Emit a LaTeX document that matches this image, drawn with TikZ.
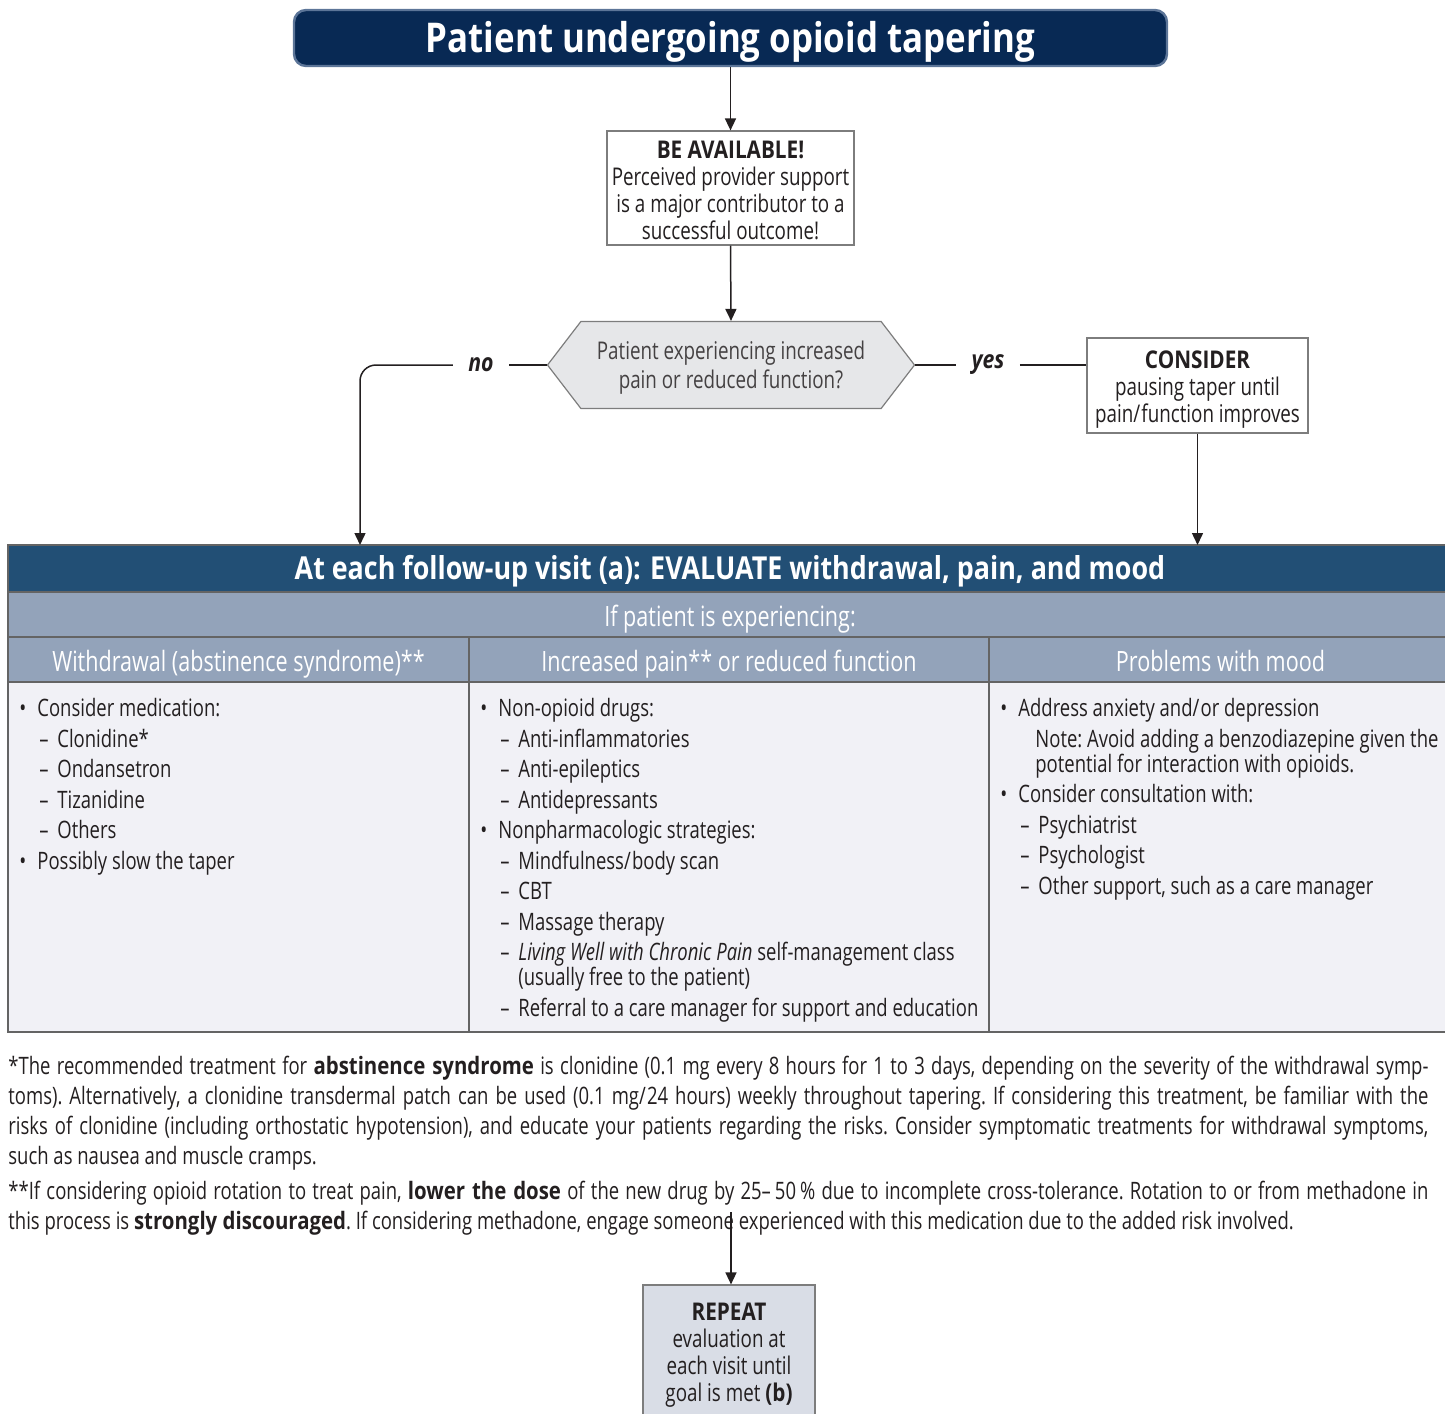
\documentclass[tikz,border=0pt]{standalone}
\usepackage{fontspec}
\setmainfont{Open Sans}[FakeStretch=0.77,BoldFeatures={FakeStretch=0.85},BoldItalicFeatures={FakeStretch=0.85}]
\usetikzlibrary{arrows.meta,positioning,shapes.symbols}
\definecolor{navy}{RGB}{8,41,84}
\definecolor{navyedge}{RGB}{92,117,152}
\definecolor{steel}{RGB}{34,79,117}
\definecolor{haze}{RGB}{147,163,186}
\definecolor{pale}{RGB}{241,241,246}
\definecolor{hexfill}{RGB}{230,231,233}
\definecolor{repfill}{RGB}{217,221,230}
\definecolor{ink}{RGB}{35,31,32}
\definecolor{rule}{RGB}{125,125,125}
\tikzset{
  head/.style ={draw=navyedge,line width=1.2pt,rounded corners=6pt,fill=navy,
                text=white,minimum width=436.5pt,minimum height=28pt,
                text height=15.5pt,text depth=0.5pt,
                font=\bfseries\fontsize{20.5}{24}\selectfont},
  bx/.style   ={draw=rule,line width=0.6pt,fill=white,align=center,text=ink,
                inner sep=0pt,font=\fontsize{12.2}{13.5}\selectfont},
  dec/.style  ={signal,signal to=west and east,signal pointer angle=105,
                draw=rule,line width=0.6pt,fill=hexfill,align=center,
                text=ink!85,inner xsep=0pt,minimum width=183.5pt,
                minimum height=43.5pt,font=\fontsize{12.2}{14.5}\selectfont},
  lbl/.style  ={font=\bfseries\itshape\fontsize{12.5}{14}\selectfont,text=ink,
                inner xsep=7.5pt},
  thd/.style  ={draw=rule!80!black,line width=0.6pt,fill=steel,text=white,
                outer sep=0pt,minimum width=722pt,minimum height=23.5pt,
                text height=11.5pt,text depth=1pt,
                font=\bfseries\fontsize{15.8}{17}\selectfont},
  tsub/.style ={draw=rule!80!black,line width=0.6pt,fill=haze,text=white,
                outer sep=0pt,minimum height=22.5pt,text height=12pt,text depth=0.5pt,
                font=\fontsize{14}{16}\selectfont},
  tcell/.style={draw=rule!80!black,line width=0.6pt,fill=pale,outer sep=0pt,
                minimum height=175pt},
  ttxt/.style ={align=flush left,text=ink,inner xsep=5.5pt,inner ysep=2pt,
                anchor=north west,font=\fontsize{12}{12.5}\selectfont,
                execute at begin node={\setlength{\parskip}{2.75pt}\hyphenpenalty=10000\frenchspacing}},
  fn/.style   ={align=justify,text=ink,inner sep=0pt,anchor=north west,
                text width=710pt,font=\fontsize{12}{15}\selectfont,
                execute at begin node={\setlength{\parskip}{2.5pt}\frenchspacing}},
  ar/.style   ={-{Triangle[length=6pt,width=5.5pt]},line width=0.75pt,draw=ink},
  ln/.style   ={line width=0.75pt,draw=ink},
}
\newcommand{\bitem}[1]{\par\hangindent=9pt\hangafter=1\makebox[9pt][l]{\textbullet}#1}
\newcommand{\ditem}[1]{\par\hangindent=19pt\hangafter=1\hspace*{10pt}\makebox[9pt][l]{\textendash}#1}
\newcommand{\nitem}[1]{\par\hangindent=17.5pt\hangafter=0 #1}
\newcommand{\tpad}[1]{\rule{0pt}{#1}}
\newcommand{\sep}{/\kern0.6pt}

\begin{document}
\begin{tikzpicture}[x=0.5pt,y=-0.5pt]
\useasboundingbox (0,0) rectangle (1445,1413);
\node[head] (T) at (730.5,38) {Patient undergoing opioid tapering};
\node[bx,minimum width=123.5pt,minimum height=57pt] (AV) at (730.5,188)
  {\tpad{11.2pt}\textbf{BE AVAILABLE!}\\Perceived provider support\\is a major contributor to a\\successful outcome!};
\node[dec] (Q) at (731,365) {\tpad{12.3pt}Patient experiencing increased\\pain or reduced function?};
\node[lbl] (NO) at (481,365) {no};
\node[lbl] (YES) at (988,365) {yes};
\node[bx,minimum width=110.5pt,minimum height=47.5pt] (C) at (1197.5,385.5)
  {\tpad{12.7pt}\textbf{CONSIDER}\\pausing taper until\\pain\sep function improves};
\coordinate (NX) at (360,0);
\node[thd] (H) at (730,568.5) {At each follow-up visit (a): EVALUATE withdrawal, pain, and mood};
\node[tsub,minimum width=722pt,below=0pt of H] (S) {If patient is experiencing:};
\node[tsub,minimum width=230.5pt,anchor=north west] (K1) at (S.south west) {Withdrawal (abstinence syndrome)**};
\node[tsub,minimum width=260pt,right=0pt of K1] (K2) {Increased pain** or reduced function};
\node[tsub,minimum width=231.5pt,right=0pt of K2] (K3) {Problems with mood};
\node[tcell,minimum width=230.5pt,below=0pt of K1] (B1) {};
\node[tcell,minimum width=260pt,below=0pt of K2] (B2) {};
\node[tcell,minimum width=231.5pt,below=0pt of K3] (B3) {};
\node[ttxt,text width=226pt] (L1) at (B1.north west)
  {\bitem{Consider medication:}\ditem{Clonidine*}\ditem{Ondansetron}\ditem{Tizanidine}\ditem{Others}%
   \bitem{Possibly slow the taper}};
\node[ttxt,text width=262pt] (L2) at (B2.north west)
  {\bitem{Non-opioid drugs:}\ditem{Anti-inflammatories}\ditem{Anti-epileptics}\ditem{Antidepressants}%
   \bitem{Nonpharmacologic strategies:}\ditem{Mindfulness\sep body scan}\ditem{CBT}\ditem{Massage therapy}%
   \ditem{\textit{Living Well with Chronic Pain} self-management class\newline (usually free to the patient)}%
   \ditem{Referral to a care manager for support and education}};
\node[ttxt,text width=232pt] (L3) at (B3.north west)
  {\bitem{Address anxiety and\sep or depression}%
   \nitem{Note: Avoid adding a benzodiazepine given the\newline potential for interaction with opioids.}%
   \bitem{Consider consultation with:}\ditem{Psychiatrist}\ditem{Psychologist}\ditem{Other support, such as a care manager}};
\node[fn] (FN) at (8,1056)
  {*The recommended treatment for \textbf{abstinence syndrome} is clonidine (0.1 mg every 8 hours for 1 to 3 days, depending on the severity of the withdrawal symp-\linebreak
   toms). Alternatively, a clonidine transdermal patch can be used (0.1 mg\sep 24 hours) weekly throughout tapering. If considering this treatment, be familiar with the\linebreak
   risks of clonidine (including orthostatic hypotension), and educate your patients regarding the risks. Consider symptomatic treatments for withdrawal symptoms,\linebreak
   such as nausea and muscle cramps.\par
   **If considering opioid rotation to treat pain, \textbf{lower the dose} of the new drug by 25\textendash\,50\,\% due to incomplete cross-tolerance. Rotation to or from methadone in\linebreak
   this process is \textbf{strongly discouraged}. If considering methadone, engage someone experienced with this medication due to the added risk involved.};
\node[bx,fill=repfill,minimum width=86pt,minimum height=67pt] (R) at (729,1352)
  {\tpad{11.7pt}\textbf{REPEAT}\\evaluation at\\each visit until\\goal is met \textbf{(b)}};
\coordinate (RF) at (731,1212);
\draw[ar] (T.south) -- (AV.north); \draw[ar] (AV.south) -- (Q.north);
\draw[ln] (Q.west) -- (NO.east); \draw[ar,rounded corners=8pt] (NO.west) -| (NX |- H.north);
\draw[ln] (Q.east) -- (YES.west); \draw[ln] (YES.east) -- (YES.east -| C.west);
\draw[ar] (C.south) -- (C.south |- H.north);
\draw[ar] (RF) -- (RF |- R.north);
\end{tikzpicture}
\end{document}
